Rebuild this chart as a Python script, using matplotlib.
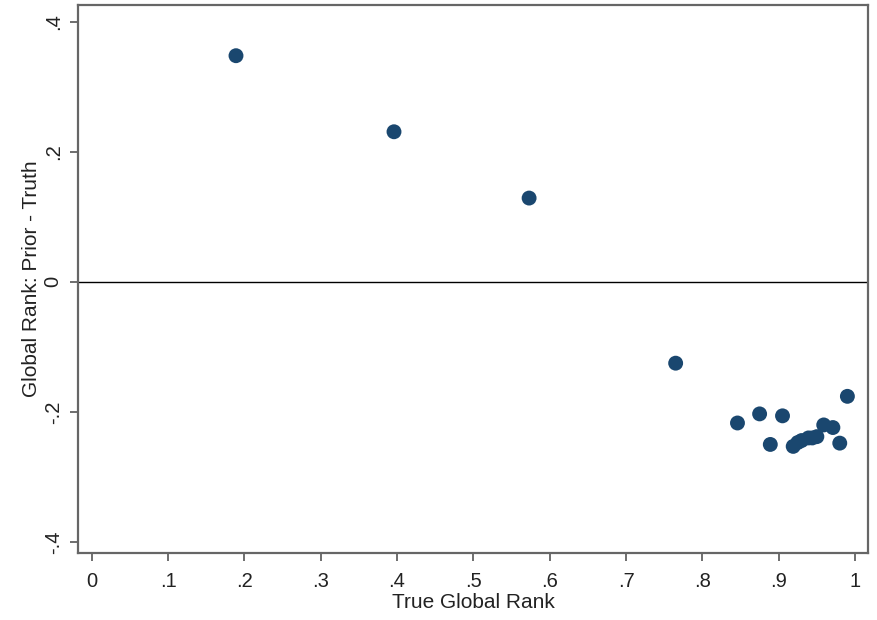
import matplotlib
matplotlib.use("Agg")
import matplotlib.pyplot as plt

plt.rcParams['font.family'] = ['Liberation Sans', 'DejaVu Sans']

true_rank = [0.189, 0.396, 0.573, 0.765, 0.846, 0.875, 0.905, 0.889, 0.919,
             0.925, 0.930, 0.939, 0.944, 0.950, 0.959, 0.971, 0.980, 0.990]
diff = [0.348, 0.231, 0.129, -0.125, -0.217, -0.203, -0.206, -0.250, -0.253,
        -0.247, -0.244, -0.240, -0.240, -0.238, -0.220, -0.224, -0.248, -0.176]

xticks = [0, 0.1, 0.2, 0.3, 0.4, 0.5, 0.6, 0.7, 0.8, 0.9, 1.0]
xticklabels = ['0', '.1', '.2', '.3', '.4', '.5', '.6', '.7', '.8', '.9', '1']
yticks = [-0.4, -0.2, 0, 0.2, 0.4]
yticklabels = ['-.4', '-.2', '0', '.2', '.4']

fig = plt.figure(figsize=(8.77, 6.2), dpi=100)
ax = fig.add_axes([78/877, 1 - 553/620, (868-78)/877, (553-5)/620])

ax.axhline(0, color='black', lw=1.0, zorder=1)
ax.scatter(true_rank, diff, s=115, color='#1a476f', zorder=3, edgecolors='none')

ax.set_xlim(-0.018, 1.017)
ax.set_ylim(-0.417, 0.426)
ax.set_xticks(xticks)
ax.set_xticklabels(xticklabels)
ax.set_yticks(yticks)
ax.set_yticklabels(yticklabels, rotation=90, va='center')

for sp in ax.spines.values():
    sp.set_color('#666666')
    sp.set_linewidth(1.6)
ax.tick_params(axis='both', direction='out', length=6, width=1.2, color='#555555',
               labelsize=14.5, labelcolor='#222222')
ax.tick_params(axis='x', pad=8)
ax.tick_params(axis='y', pad=5)

ax.set_xlabel('True Global Rank', fontsize=15, color='#222222', labelpad=1)
ax.set_ylabel('Global Rank: Prior - Truth', fontsize=15, color='#222222', labelpad=2)

fig.savefig('out.png', dpi=100, facecolor='white')
